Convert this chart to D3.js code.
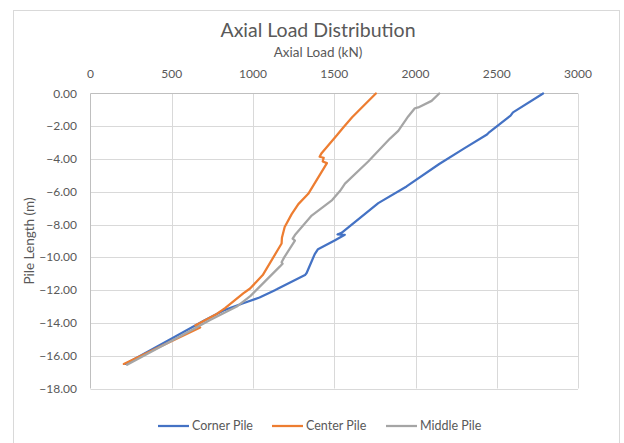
<!DOCTYPE html>
<html>
<head>
<meta charset="utf-8">
<script src="https://cdn.jsdelivr.net/npm/d3@7"></script>
<style>
  body { margin: 0; background: #fff; }
  text { font-family: Lato, "Open Sans", sans-serif; fill: #595959; }
</style>
</head>
<body>
<div id="chart"></div>
<script>
// series: [load kN, depth m]
const cornerPile = [
  [2785, 0], [2600, -1.15], [2585, -1.35], [2455, -2.35], [2440, -2.5],
  [2300, -3.35], [2146, -4.3], [1945, -5.67], [1771, -6.69], [1545, -8.5],
  [1520, -8.6], [1565, -8.62], [1505, -8.95], [1400, -9.5], [1380, -9.8],
  [1330, -10.95], [1320, -11.08], [1146, -11.95], [1135, -12.0], [1040, -12.45],
  [940, -12.8], [828, -13.2], [700, -13.85], [500, -14.95], [215, -16.5]
];
const centerPile = [
  [1756, 0], [1610, -1.45], [1553, -2.1], [1516, -2.55], [1422, -3.64],
  [1410, -3.86], [1435, -3.92], [1429, -4.15], [1455, -4.25], [1340, -6.12],
  [1279, -6.75], [1238, -7.36], [1195, -8.15], [1178, -8.8], [1176, -9.15],
  [1164, -9.35], [1060, -11.08], [982, -11.9], [940, -12.2], [828, -13.1],
  [777, -13.45], [645, -14.15], [675, -14.28], [205, -16.5]
];
const middlePile = [
  [2146, 0], [2099, -0.45], [2017, -0.85], [1996, -0.9], [1955, -1.4],
  [1894, -2.28], [1843, -2.75], [1709, -4.15], [1566, -5.5], [1535, -5.95],
  [1487, -6.5], [1361, -7.45], [1258, -8.64], [1244, -8.86], [1258, -8.98],
  [1192, -10.0], [1176, -10.3], [1182, -10.38], [1166, -10.55], [1040, -11.8],
  [985, -12.35], [900, -13.0], [736, -13.82], [623, -14.43], [225, -16.55]
];
const seriesNames = ["Corner Pile", "Center Pile", "Middle Pile"];
const seriesColors = ["#4472C4", "#ED7D31", "#A5A5A5"];
const xTicks = [0, 500, 1000, 1500, 2000, 2500, 3000];
const yTicks = [0, -2, -4, -6, -8, -10, -12, -14, -16, -18];

const width = 624, height = 443;
const plot = { left: 90.5, right: 578, top: 93.5, bottom: 388.5 };

const svg = d3.select("#chart").append("svg")
  .attr("width", width).attr("height", height);

// chart frame
svg.append("rect")
  .attr("x", 13.5).attr("y", 10.5)
  .attr("width", 606).attr("height", 440)
  .attr("fill", "none").attr("stroke", "#d9d9d9");

const x = d3.scaleLinear().domain([0, 3000]).range([plot.left, plot.right]);
const y = d3.scaleLinear().domain([0, -18]).range([plot.top, plot.bottom]);

// gridlines
svg.append("g")
  .selectAll("line")
  .data(xTicks.slice(1))
  .join("line")
  .attr("x1", d => Math.round(x(d)) + 0.5).attr("x2", d => Math.round(x(d)) + 0.5)
  .attr("y1", plot.top).attr("y2", plot.bottom)
  .attr("stroke", "#d9d9d9");

svg.append("g")
  .selectAll("line")
  .data(yTicks.slice(1))
  .join("line")
  .attr("x1", plot.left).attr("x2", plot.right)
  .attr("y1", d => Math.round(y(d)) + 0.5).attr("y2", d => Math.round(y(d)) + 0.5)
  .attr("stroke", "#d9d9d9");

// axis lines (top and left)
svg.append("line")
  .attr("x1", plot.left).attr("x2", plot.right)
  .attr("y1", plot.top).attr("y2", plot.top)
  .attr("stroke", "#bfbfbf");
svg.append("line")
  .attr("x1", plot.left).attr("x2", plot.left)
  .attr("y1", plot.top).attr("y2", plot.bottom)
  .attr("stroke", "#bfbfbf");

// tick labels
svg.append("g")
  .selectAll("text")
  .data(xTicks)
  .join("text")
  .attr("x", d => x(d)).attr("y", 78)
  .attr("text-anchor", "middle")
  .attr("font-size", 12)
  .text(d => d);

svg.append("g")
  .selectAll("text")
  .data(yTicks)
  .join("text")
  .attr("x", 77).attr("y", d => y(d) + 4)
  .attr("text-anchor", "end")
  .attr("font-size", 12)
  .text(d => d3.format(".2f")(d));

// titles
svg.append("text")
  .attr("x", 318).attr("y", 37)
  .attr("text-anchor", "middle")
  .attr("font-size", 19.5)
  .text("Axial Load Distribution");

svg.append("text")
  .attr("x", 318).attr("y", 57)
  .attr("text-anchor", "middle")
  .attr("font-size", 13.5)
  .text("Axial Load (kN)");

svg.append("text")
  .attr("transform", `translate(34,${(plot.top + plot.bottom) / 2}) rotate(-90)`)
  .attr("text-anchor", "middle")
  .attr("font-size", 13.5)
  .text("Pile Length (m)");

// lines
const line = d3.line().x(d => x(d[0])).y(d => y(d[1]));
const allSeries = [cornerPile, centerPile, middlePile];

svg.append("g")
  .selectAll("path")
  .data(allSeries)
  .join("path")
  .attr("d", line)
  .attr("fill", "none")
  .attr("stroke", (d, i) => seriesColors[i])
  .attr("stroke-width", 2.25)
  .attr("stroke-linejoin", "round")
  .attr("stroke-linecap", "round");

// legend
const legendX = [158, 272, 386];
const legend = svg.append("g")
  .selectAll("g")
  .data(seriesNames)
  .join("g")
  .attr("transform", (d, i) => `translate(${legendX[i]},426)`);

legend.append("line")
  .attr("x1", 0).attr("x2", 31)
  .attr("stroke", (d, i) => seriesColors[i])
  .attr("stroke-width", 2.25);

legend.append("text")
  .attr("x", 34).attr("y", 4)
  .attr("font-size", 12.5)
  .text(d => d);
</script>
</body>
</html>
